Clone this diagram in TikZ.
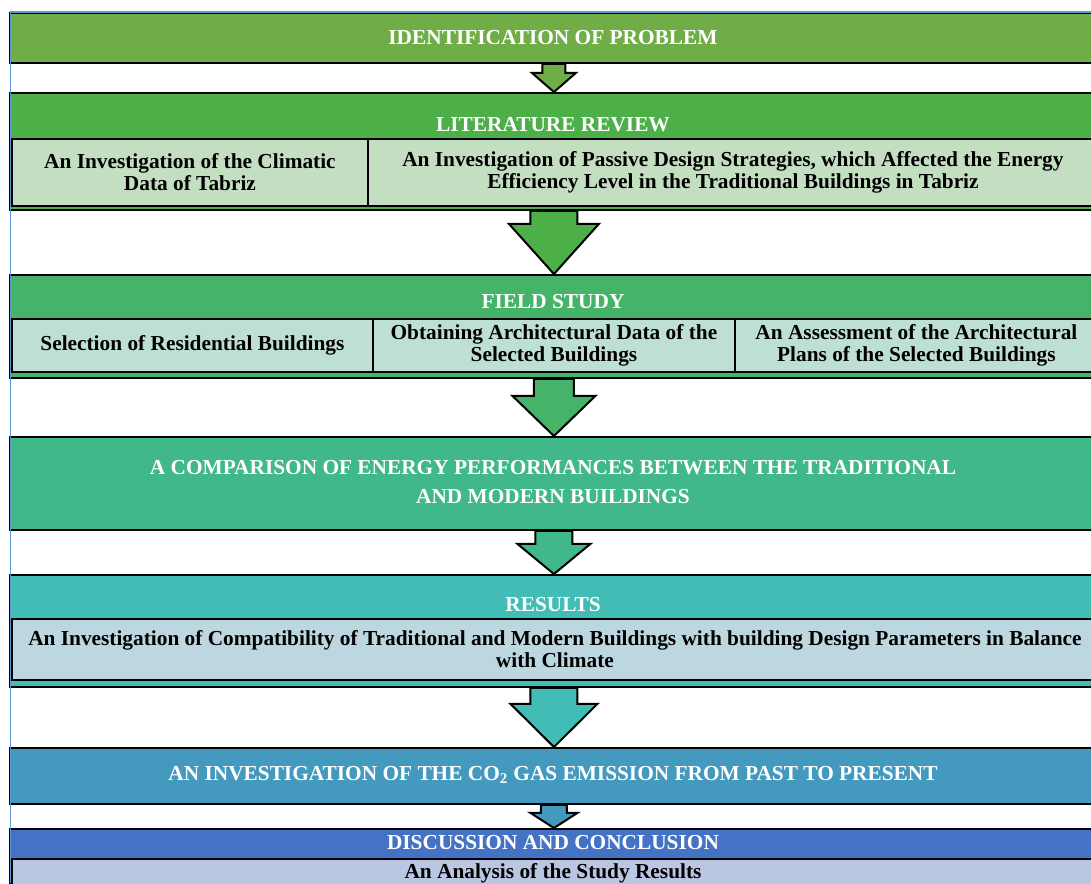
\documentclass[tikz,border=0pt]{standalone}
\usepackage{fontspec}
\setmainfont{Liberation Serif}
\usetikzlibrary{calc}

\definecolor{identgr}{HTML}{70AD47}
\definecolor{litgr}{HTML}{4CAF48}
\definecolor{litlt}{HTML}{C4DEC2}
\definecolor{fieldgr}{HTML}{45B468}
\definecolor{fieldlt}{HTML}{BEDFD6}
\definecolor{compgr}{HTML}{41B88A}
\definecolor{resgr}{HTML}{42BDB6}
\definecolor{reslt}{HTML}{BDD7E0}
\definecolor{cotwo}{HTML}{4399BE}
\definecolor{discbl}{HTML}{4472C4}
\definecolor{disclt}{HTML}{BBC6E2}
\definecolor{frameblue}{HTML}{5B9BD5}

\tikzset{
  box/.style={draw=black, line width=1.4pt, anchor=north west, inner sep=0pt, minimum width=816pt},
  cell/.style={draw=black, line width=1.4pt, anchor=north west, inner sep=2pt, align=center,
    font=\fontsize{16}{16.5}\selectfont\bfseries},
  hdr/.style={text=white, align=center, inner sep=0pt, font=\fontsize{16}{16.5}\selectfont\bfseries},
  blockarr/.style={draw=black, line width=1.5pt, line join=miter},
}

\newcommand{\blockarrow}[6]{%
  \draw[blockarr, fill=#3] let \p1=(#1), \p2=(#2) in
    (\x1-#4*0.75pt,\y1) -- (\x1-#4*0.75pt,\y1-#6*0.75pt) -- (\x1-#5*0.75pt,\y1-#6*0.75pt)
    -- (\x1,\y2) -- (\x1+#5*0.75pt,\y1-#6*0.75pt) -- (\x1+#4*0.75pt,\y1-#6*0.75pt)
    -- (\x1+#4*0.75pt,\y1) -- cycle;}

\begin{document}
\begin{tikzpicture}[x=0.75pt, y=-0.75pt]
  \clip (0,0) rectangle (1091,883);
  \fill[white] (0,0) rectangle (1091,883);

  \node[box, fill=identgr, minimum height=37.5pt] (ident) at (9,12) {};
  \node[hdr] (identtxt) at (553,38) {IDENTIFICATION OF PROBLEM};

  \node[box, fill=litgr, minimum height=87.75pt] (lit) at (9,92) {};
  \node[hdr] (littxt) at (553,125) {LITERATURE REVIEW};
  \node[cell, fill=litlt, minimum width=267pt, minimum height=50.25pt] (climate) at (11,138)
    {An Investigation of the Climatic\\Data of Tabriz};
  \node[cell, fill=litlt, minimum width=547.5pt, minimum height=50.25pt] (passive) at (367,138)
    {An Investigation of Passive Design Strategies, which Affected the Energy\\Efficiency Level in the Traditional Buildings in Tabriz};

  \node[box, fill=fieldgr, minimum height=77.25pt] (field) at (9,274) {};
  \node[hdr] (fieldtxt) at (553,302) {FIELD STUDY};
  \node[cell, fill=fieldlt, minimum width=270.75pt, minimum height=39.75pt] (select) at (11,318)
    {Selection of Residential Buildings};
  \node[cell, fill=fieldlt, minimum width=271.5pt, minimum height=39.75pt] (obtain) at (372,318)
    {Obtaining Architectural Data of the\\Selected Buildings};
  \node[cell, fill=fieldlt, minimum width=272.25pt, minimum height=39.75pt] (assess) at (734,318)
    {An Assessment of the Architectural\\Plans of the Selected Buildings};

  \node[box, fill=compgr, minimum height=69.75pt] (comp) at (9,436) {};
  \node[hdr, font=\fontsize{16}{21.75}\selectfont\bfseries] (comptxt) at (553,482)
    {A COMPARISON OF ENERGY PERFORMANCES BETWEEN THE TRADITIONAL\\AND MODERN BUILDINGS};

  \node[box, fill=resgr, minimum height=84pt] (res) at (9,574) {};
  \node[hdr] (restxt) at (553,605) {RESULTS};
  \node[cell, fill=reslt, minimum width=814.5pt, minimum height=45.75pt] (compat) at (11,618)
    {An Investigation of Compatibility of Traditional and Modern Buildings with building Design Parameters in Balance\\with Climate};

  \node[box, fill=cotwo, minimum height=42pt] (emis) at (9,747) {};
  \node[hdr] (emistxt) at (553,775) {AN INVESTIGATION OF THE CO\textsubscript{2} GAS EMISSION FROM PAST TO PRESENT};

  \node[box, fill=discbl, minimum height=54pt] (disc) at (9,828) {};
  \node[hdr] (disctxt) at (553,843) {DISCUSSION AND CONCLUSION};
  \node[cell, fill=disclt, minimum width=814.5pt, minimum height=31.5pt] (analysis) at (11,858) {};
  \node[cell, draw=none, fill=none, anchor=center] (analysistxt) at (553,873) {An Analysis of the Study Results};

  \blockarrow{ident.south}{lit.north}{identgr}{11.5}{22}{9}
  \blockarrow{lit.south}{field.north}{litgr}{23.5}{45}{13}
  \blockarrow{field.south}{comp.north}{fieldgr}{20}{41.5}{17}
  \blockarrow{comp.south}{res.north}{compgr}{18.5}{36.5}{13}
  \blockarrow{res.south}{emis.north}{resgr}{23.5}{43.5}{16}
  \blockarrow{emis.south}{disc.north}{cotwo}{13}{23.5}{8}

  \draw[frameblue, line width=0.8pt] (10.7,883) -- (10.7,12) -- (1091,12);
\end{tikzpicture}
\end{document}
